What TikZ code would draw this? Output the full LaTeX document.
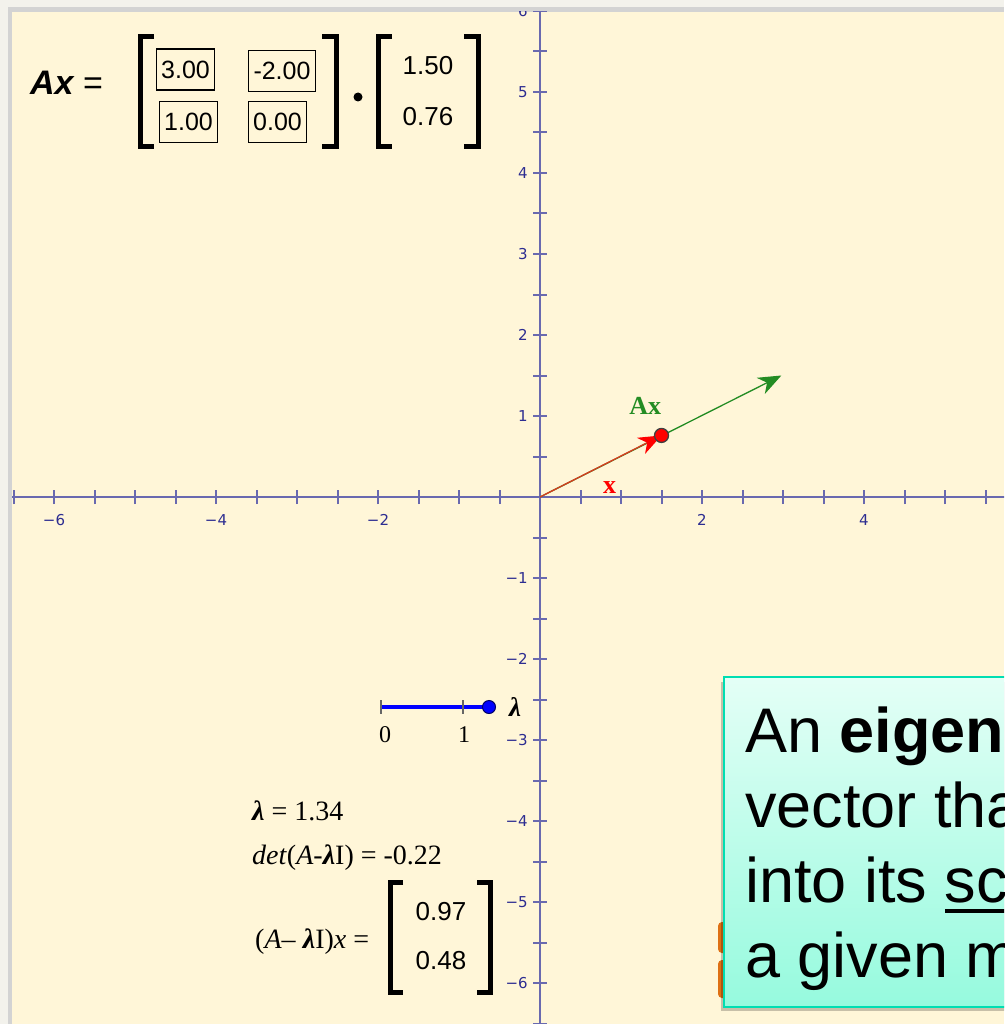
\documentclass[tikz,border=0pt]{standalone}
\usepackage{fontspec}
\setmainfont{Liberation Serif}
\newfontfamily\arialfont{Liberation Sans}
\newfontfamily\tickfont{DejaVu Sans}
\usepackage{tikz}
\usetikzlibrary{arrows.meta, positioning}
\definecolor{outer}{RGB}{243,242,236}
\definecolor{rim}{RGB}{211,211,211}
\definecolor{canvas}{RGB}{255,246,216}
\definecolor{axisc}{RGB}{105,105,175}
\definecolor{ticktxt}{RGB}{45,45,145}
\definecolor{vecX}{RGB}{215,60,30}
\definecolor{vecAx}{RGB}{35,140,35}
\definecolor{boxTop}{RGB}{228,255,246}
\definecolor{boxBot}{RGB}{150,250,222}
\definecolor{boxRim}{RGB}{0,222,178}
\definecolor{peek}{RGB}{222,112,20}

\begin{document}
\begin{tikzpicture}[x=1pt, y=-1pt,
  axisline/.style={line width=2.4pt, draw=axisc},
  tickmark/.style={line width=2pt, draw=axisc},
  ticklabel/.style={font=\tickfont\fontsize{15}{15}\selectfont, text=ticktxt, inner sep=0pt},
  brk/.style={line width=5pt, miter limit=10},
  entry/.style={draw, line width=1.3pt, inner xsep=5pt, inner ysep=0pt, minimum height=41pt,
    font=\arialfont\fontsize{25}{25}\selectfont},
  sansnum/.style={inner sep=0pt, font=\arialfont\fontsize{26}{26}\selectfont},
  serifline/.style={anchor=base west, inner sep=0pt, font=\fontsize{28}{28}\selectfont},
  bigtxt/.style={anchor=base west, inner sep=0pt, font=\arialfont\fontsize{63}{63}\selectfont}]
  \useasboundingbox (0,0) rectangle (1004,1024);

  % window frame
  \fill[outer] (0,0) rectangle (1004,1024);
  \fill[rim] (8,7) rectangle (1004,1024);
  \fill[canvas] (12,12) rectangle (1004,1024);

  \begin{scope}
  \clip (12,12) rectangle (1004,1024);

  % axes, 81px per unit
  \begin{scope}[shift={(540pt,-497pt)}, x=81pt, y=81pt]
    \coordinate (O) at (0,0);
    \draw[axisline] (-6.7,0) -- (5.8,0);
    \draw[axisline] (0,-6.6) -- (0,6.2);
    \foreach \i in {-13,...,11}
      \draw[tickmark] (\i/2,0) ++(0pt,-7pt) -- ++(0pt,14pt);
    \foreach \j in {-13,...,12}
      \draw[tickmark] (0,\j/2) ++(-7pt,0pt) -- ++(14pt,0pt);
    \foreach \v/\t [count=\k] in {-6/−6, -4/−4, -2/−2, 2/2, 4/4}
      \node[ticklabel] (xl\k) at (\v,-0.284) {\t};
    \foreach \v/\t [count=\k] in {1/1, 2/2, 3/3, 4/4, 5/5, 6/6, -1/−1, -2/−2, -3/−3, -4/−4, -5/−5, -6/−6}
      \node[ticklabel, anchor=east] (yl\k) at (-0.15,\v) {\t};

    % x and Ax
    \coordinate (xtip) at (1.50,0.76);
    \coordinate (Axtip) at (2.98,1.50);
    \draw[vecAx, line width=1.3pt, -{Stealth[length=23pt, width=18pt, inset=7pt]}] (O) -- (Axtip);
    \draw[vecX, line width=1.3pt, -{Stealth[length=23pt, width=18pt, inset=7pt, color=red]}] (O) -- (xtip);
    \node[circle, fill=red, draw=black!75, line width=1.3pt, inner sep=0pt, minimum size=14pt] (xdot) at (xtip) {};
    \node[text=vecAx, font=\bfseries\fontsize{26}{26}\selectfont, inner sep=0pt] (Axlab) at (1.30,1.12) {Ax};
    \node[text=red, font=\bfseries\fontsize{26}{26}\selectfont, inner sep=0pt] (xlab) at (0.86,0.12) {x};
  \end{scope}

  % Ax = matrix times vector
  \node[anchor=base west, inner sep=0pt, font=\arialfont\fontsize{34}{34}\selectfont] (Aeq) at (30,95)
    {\bfseries\itshape Ax\mdseries\upshape{} =};
  \draw[brk] (154,37) -- (140,37) -- (140,147) -- (154,147);
  \draw[brk] (322,37) -- (336,37) -- (336,147) -- (322,147);
  \node[entry] (a11) at (185.5,69.5) {3.00};
  \node[entry] (a12) at (282,71) {-2.00};
  \node[entry] (a21) at (188.5,122) {1.00};
  \node[entry] (a22) at (277.5,122) {0.00};
  \fill (358,97) circle (4.5pt);
  \draw[brk] (392,37) -- (378,37) -- (378,147) -- (392,147);
  \draw[brk] (464,37) -- (478,37) -- (478,147) -- (464,147);
  \node[sansnum] (x1) at (428,66) {1.50};
  \node[sansnum] (x2) at (428,117) {0.76};

  % lambda slider
  \coordinate (s0) at (381,707);
  \coordinate (s1) at (463,707);
  \draw[blue, line width=4pt] (s0) -- (489,707);
  \draw[black!60, line width=1.5pt] (381,700) -- (381,714);
  \draw[black!60, line width=1.5pt] (463,700) -- (463,714);
  \node[circle, fill=blue, draw=blue!40!black, line width=1pt, inner sep=0pt, minimum size=13pt] (sdot) at (489,707) {};
  \node[inner sep=0pt, font=\fontsize{24}{24}\selectfont] (s0lab) at (385,735) {0};
  \node[inner sep=0pt, font=\fontsize{24}{24}\selectfont] (s1lab) at (464,735) {1};
  \node[inner sep=0pt, font=\bfseries\itshape\fontsize{27}{27}\selectfont] (lamlab) at (515,707) {λ};

  % readouts
  \node[serifline] (lamval) at (252,820) {\textbf{\textit{λ}} = 1.34};
  \node[serifline] (detval) at (252,864) {\textit{det}(\textit{A}-\textbf{\textit{λ}}I) = -0.22};
  \node[serifline] (resval) at (255,948) {(\textit{A}– \textbf{\textit{λ}}I)\textit{x} =};
  \draw[brk] (403,882) -- (390,882) -- (390,992) -- (403,992);
  \draw[brk] (477,882) -- (490,882) -- (490,992) -- (477,992);
  \node[sansnum] (r1) at (441,912) {0.97};
  \node[sansnum] (r2) at (441,961) {0.48};

  % callout box
  \fill[peek, rounded corners=4pt] (718,922) rectangle (740,953);
  \fill[peek, rounded corners=4pt] (718,960) rectangle (740,998);
  \fill[black, opacity=0.22] (721,682) rectangle (1012,1011);
  \shade[top color=boxTop, bottom color=boxBot] (724,677) rectangle (1012,1007);
  \draw[boxRim, line width=2pt] (724,677) rectangle (1012,1007);
  \node[bigtxt] (ln1) at (745,752) {An \textbf{eigen}};
  \node[bigtxt] (ln2) at (745,827) {vector tha};
  \node[bigtxt] (ln3) at (745,902) {into its sc};
  \node[bigtxt] (ln4) at (745,977) {a given m};
  \draw[line width=4pt] (945,911) -- (1010,911);
  \end{scope}
\end{tikzpicture}
\end{document}
